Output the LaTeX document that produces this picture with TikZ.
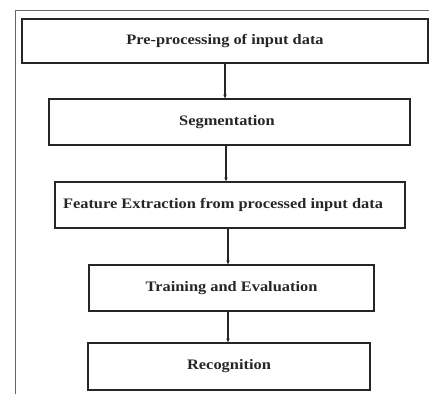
\documentclass[tikz,border=0pt]{standalone}
\usepackage{fontspec}
\setmainfont{Liberation Serif}
\newfontfamily\boxfont[FakeStretch=1.13]{Liberation Serif}
\usetikzlibrary{arrows.meta}
\begin{document}
\begin{tikzpicture}[x=1pt,y=-1pt,
  stepbox/.style={draw=black!85, line width=1.3pt, inner sep=0pt, font=\boxfont\fontsize{14.5}{16}\selectfont\bfseries, text=black!85},
  arr/.style={draw=black!85, line width=1.1pt, -{Stealth[length=4pt,width=3.5pt]}},
  frame/.style={draw=black!60, line width=1pt}]
\useasboundingbox (0,0) rectangle (429,394);
\draw[frame] (15.5,394) -- (15.5,10) -- (429,10);
\node[stepbox, minimum width=406pt, minimum height=44pt] (b1) at (225,41) {Pre-processing of input data};
\node[stepbox, minimum width=361pt, minimum height=46pt] (b2) at (229.5,122) {Segmentation\hspace*{5pt}};
\node[stepbox, minimum width=350pt, minimum height=46pt] (b3) at (230,205) {Feature Extraction from processed input data\hspace*{14pt}};
\node[stepbox, minimum width=285pt, minimum height=46pt] (b4) at (231.5,288) {Training and Evaluation};
\node[stepbox, minimum width=282pt, minimum height=47pt] (b5) at (229,366.5) {Recognition};
\draw[arr] (b1.south) -- (b1.south |- b2.north);
\draw[arr] ([xshift=-3.5pt]b2.south) -- ([xshift=-3.5pt]b2.south |- b3.north);
\draw[arr] ([xshift=-2pt]b3.south) -- ([xshift=-2pt]b3.south |- b4.north);
\draw[arr] ([xshift=-1pt]b5.north |- b4.south) -- ([xshift=-1pt]b5.north);
\end{tikzpicture}
\end{document}
